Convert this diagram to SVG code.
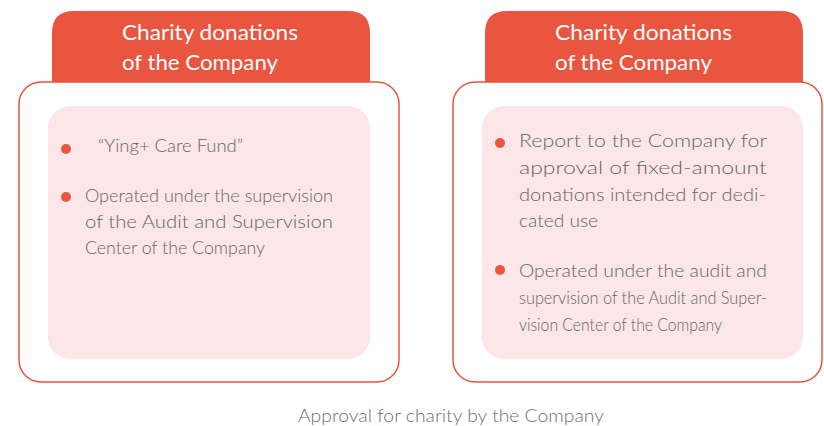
<svg xmlns="http://www.w3.org/2000/svg" width="824" height="426" viewBox="0 0 824 426">
<style>
.tab{fill:#e9553f}
.outer{fill:#fff;stroke:#e9553f;stroke-width:1.5}
.inner{fill:#fce6e7}
.ht{font-family:Lato,"Open Sans",sans-serif;font-size:21.5px;fill:#fff}
.bt{font-family:Lato,"Open Sans",sans-serif;font-weight:300;font-size:18.5px;fill:#666}
.dot{fill:#e9553f}
.title{font-family:Lato,"Open Sans",sans-serif;font-weight:300;font-size:18.5px;fill:#707070}
</style>
<g id="left-panel">
<path class="tab" d="M52,90 V33 Q52,11 74,11 H348 Q370,11 370,33 V90 Z"/>
<rect class="outer" x="19" y="82" width="380" height="300" rx="22"/>
<rect class="inner" x="48" y="106" width="322" height="253" rx="22"/>
<text class="ht" x="122" y="40" textLength="176" lengthAdjust="spacingAndGlyphs">Charity donations</text>
<text class="ht" x="122" y="70" textLength="156" lengthAdjust="spacingAndGlyphs">of the Company</text>
<circle class="dot" cx="66" cy="149" r="5"/>
<text class="bt" x="98" y="152" textLength="145" lengthAdjust="spacingAndGlyphs">“Ying+ Care Fund”</text>
<circle class="dot" cx="66" cy="197" r="5"/>
<text class="bt" x="85" y="202" textLength="248" lengthAdjust="spacingAndGlyphs">Operated under the supervision</text>
<text class="bt" x="85" y="228" textLength="248" lengthAdjust="spacingAndGlyphs">of the Audit and Supervision</text>
<text class="bt" x="85" y="254" textLength="180" lengthAdjust="spacingAndGlyphs">Center of the Company</text>
</g>
<g id="right-panel">
<path class="tab" d="M485,90 V33 Q485,11 507,11 H781 Q803,11 803,33 V90 Z"/>
<rect class="outer" x="453" y="82" width="369" height="300" rx="22"/>
<rect class="inner" x="482" y="106" width="321" height="253" rx="22"/>
<text class="ht" x="555" y="40" textLength="177" lengthAdjust="spacingAndGlyphs">Charity donations</text>
<text class="ht" x="555" y="70" textLength="157" lengthAdjust="spacingAndGlyphs">of the Company</text>
<circle class="dot" cx="500" cy="143" r="5"/>
<text class="bt" x="519" y="147" textLength="248" lengthAdjust="spacingAndGlyphs">Report to the Company for</text>
<text class="bt" x="519" y="174" textLength="248" lengthAdjust="spacingAndGlyphs">approval of fixed-amount</text>
<text class="bt" x="519" y="201" textLength="247" lengthAdjust="spacingAndGlyphs">donations intended for dedi-</text>
<text class="bt" x="519" y="227" textLength="79" lengthAdjust="spacingAndGlyphs">cated use</text>
<circle class="dot" cx="500" cy="270" r="5"/>
<text class="bt" x="519" y="277" textLength="248" lengthAdjust="spacingAndGlyphs">Operated under the audit and</text>
<text class="bt" x="519" y="304" textLength="248" lengthAdjust="spacingAndGlyphs">supervision of the Audit and Super-</text>
<text class="bt" x="519" y="331" textLength="203" lengthAdjust="spacingAndGlyphs">vision Center of the Company</text>
</g>
<g id="connectors"/>
<text class="title" x="298" y="422" textLength="306" lengthAdjust="spacingAndGlyphs">Approval for charity by the Company</text>
</svg>
